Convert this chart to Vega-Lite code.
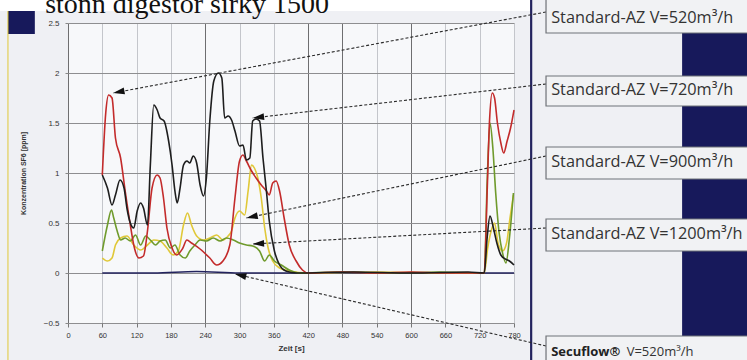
{
  "$schema": "https://vega.github.io/schema/vega-lite/v6.json",
  "width": 446,
  "height": 300,
  "autosize": {"type": "none"},
  "padding": {"left": 68, "top": 23, "right": 233, "bottom": 37},
  "background": "#eff0f4",
  "view": {"fill": "#f7f8fa", "stroke": null},
  "resolve": {"axis": {"x": "independent", "y": "independent"}},
  "title": {
    "text": "Prüf Frontschieberöffnung 900 mm; Abschaltzug Breite 1500",
    "anchor": "start",
    "dx": 52,
    "offset": 3,
    "fontSize": 9,
    "fontWeight": "normal",
    "color": "#555555",
    "font": "Liberation Sans"
  },
  "datasets": {
    "curves": [
      {"s": "E", "t": 60, "c": 0}, {"s": "E", "t": 150, "c": 0}, {"s": "E", "t": 225, "c": 0.015}, {"s": "E", "t": 300, "c": 0}, {"s": "E", "t": 420, "c": 0}, {"s": "E", "t": 560, "c": 0}, {"s": "E", "t": 729, "c": 0}, {"s": "E", "t": 780, "c": 0},

      {"s": "C", "t": 60, "c": 0.15}, {"s": "C", "t": 69, "c": 0.12}, {"s": "C", "t": 77, "c": 0.15}, {"s": "C", "t": 83, "c": 0.28}, {"s": "C", "t": 92, "c": 0.35}, {"s": "C", "t": 103, "c": 0.37}, {"s": "C", "t": 115, "c": 0.28}, {"s": "C", "t": 127, "c": 0.23}, {"s": "C", "t": 139, "c": 0.28}, {"s": "C", "t": 150, "c": 0.33}, {"s": "C", "t": 161, "c": 0.32}, {"s": "C", "t": 173, "c": 0.25}, {"s": "C", "t": 184, "c": 0.18}, {"s": "C", "t": 193, "c": 0.22}, {"s": "C", "t": 202, "c": 0.48}, {"s": "C", "t": 209, "c": 0.6}, {"s": "C", "t": 216, "c": 0.48}, {"s": "C", "t": 225, "c": 0.37}, {"s": "C", "t": 237, "c": 0.33}, {"s": "C", "t": 248, "c": 0.35}, {"s": "C", "t": 260, "c": 0.38}, {"s": "C", "t": 271, "c": 0.33}, {"s": "C", "t": 280, "c": 0.37}, {"s": "C", "t": 286, "c": 0.42}, {"s": "C", "t": 292, "c": 0.55}, {"s": "C", "t": 300, "c": 0.62}, {"s": "C", "t": 309, "c": 0.58}, {"s": "C", "t": 315, "c": 0.82}, {"s": "C", "t": 321, "c": 1.08}, {"s": "C", "t": 326, "c": 1.05}, {"s": "C", "t": 332, "c": 0.95}, {"s": "C", "t": 338, "c": 0.75}, {"s": "C", "t": 344, "c": 0.45}, {"s": "C", "t": 350, "c": 0.25}, {"s": "C", "t": 358, "c": 0.12}, {"s": "C", "t": 370, "c": 0.05}, {"s": "C", "t": 387, "c": 0.02}, {"s": "C", "t": 420, "c": 0}, {"s": "C", "t": 540, "c": 0.01}, {"s": "C", "t": 660, "c": 0}, {"s": "C", "t": 728, "c": 0}, {"s": "C", "t": 734, "c": 0.25}, {"s": "C", "t": 740, "c": 0.42}, {"s": "C", "t": 746, "c": 0.5}, {"s": "C", "t": 752, "c": 0.3}, {"s": "C", "t": 760, "c": 0.22}, {"s": "C", "t": 767, "c": 0.3}, {"s": "C", "t": 773, "c": 0.55}, {"s": "C", "t": 779, "c": 0.78},

      {"s": "D", "t": 60, "c": 0.22}, {"s": "D", "t": 69, "c": 0.48}, {"s": "D", "t": 76, "c": 0.63}, {"s": "D", "t": 80, "c": 0.55}, {"s": "D", "t": 86, "c": 0.42}, {"s": "D", "t": 92, "c": 0.33}, {"s": "D", "t": 100, "c": 0.35}, {"s": "D", "t": 109, "c": 0.32}, {"s": "D", "t": 118, "c": 0.38}, {"s": "D", "t": 127, "c": 0.28}, {"s": "D", "t": 136, "c": 0.37}, {"s": "D", "t": 144, "c": 0.33}, {"s": "D", "t": 153, "c": 0.28}, {"s": "D", "t": 161, "c": 0.32}, {"s": "D", "t": 170, "c": 0.33}, {"s": "D", "t": 179, "c": 0.25}, {"s": "D", "t": 187, "c": 0.28}, {"s": "D", "t": 196, "c": 0.18}, {"s": "D", "t": 205, "c": 0.15}, {"s": "D", "t": 213, "c": 0.22}, {"s": "D", "t": 222, "c": 0.28}, {"s": "D", "t": 231, "c": 0.33}, {"s": "D", "t": 242, "c": 0.32}, {"s": "D", "t": 254, "c": 0.35}, {"s": "D", "t": 266, "c": 0.32}, {"s": "D", "t": 277, "c": 0.35}, {"s": "D", "t": 289, "c": 0.33}, {"s": "D", "t": 300, "c": 0.3}, {"s": "D", "t": 312, "c": 0.28}, {"s": "D", "t": 323, "c": 0.27}, {"s": "D", "t": 335, "c": 0.22}, {"s": "D", "t": 344, "c": 0.12}, {"s": "D", "t": 352, "c": 0.18}, {"s": "D", "t": 361, "c": 0.12}, {"s": "D", "t": 373, "c": 0.08}, {"s": "D", "t": 387, "c": 0.03}, {"s": "D", "t": 405, "c": 0}, {"s": "D", "t": 470, "c": 0.01}, {"s": "D", "t": 560, "c": 0}, {"s": "D", "t": 650, "c": 0.01}, {"s": "D", "t": 728, "c": 0}, {"s": "D", "t": 733, "c": 0.9}, {"s": "D", "t": 738, "c": 1.5}, {"s": "D", "t": 743, "c": 1.25}, {"s": "D", "t": 748, "c": 0.8}, {"s": "D", "t": 754, "c": 0.4}, {"s": "D", "t": 760, "c": 0.2}, {"s": "D", "t": 766, "c": 0.1}, {"s": "D", "t": 772, "c": 0.35}, {"s": "D", "t": 779, "c": 0.8},

      {"s": "A", "t": 60, "c": 0.98}, {"s": "A", "t": 66, "c": 1.6}, {"s": "A", "t": 71, "c": 1.78}, {"s": "A", "t": 77, "c": 1.75}, {"s": "A", "t": 83, "c": 1.35}, {"s": "A", "t": 92, "c": 1.15}, {"s": "A", "t": 100, "c": 0.82}, {"s": "A", "t": 109, "c": 0.48}, {"s": "A", "t": 115, "c": 0.28}, {"s": "A", "t": 124, "c": 0.15}, {"s": "A", "t": 132, "c": 0.17}, {"s": "A", "t": 139, "c": 0.42}, {"s": "A", "t": 147, "c": 0.85}, {"s": "A", "t": 156, "c": 0.98}, {"s": "A", "t": 161, "c": 0.95}, {"s": "A", "t": 167, "c": 0.75}, {"s": "A", "t": 173, "c": 0.45}, {"s": "A", "t": 182, "c": 0.25}, {"s": "A", "t": 190, "c": 0.18}, {"s": "A", "t": 200, "c": 0.24}, {"s": "A", "t": 208, "c": 0.33}, {"s": "A", "t": 216, "c": 0.3}, {"s": "A", "t": 231, "c": 0.24}, {"s": "A", "t": 248, "c": 0.15}, {"s": "A", "t": 260, "c": 0.08}, {"s": "A", "t": 271, "c": 0.12}, {"s": "A", "t": 283, "c": 0.28}, {"s": "A", "t": 292, "c": 0.75}, {"s": "A", "t": 300, "c": 1.12}, {"s": "A", "t": 306, "c": 1.18}, {"s": "A", "t": 312, "c": 1.12}, {"s": "A", "t": 321, "c": 1.02}, {"s": "A", "t": 329, "c": 0.95}, {"s": "A", "t": 338, "c": 0.88}, {"s": "A", "t": 347, "c": 0.82}, {"s": "A", "t": 352, "c": 0.78}, {"s": "A", "t": 358, "c": 0.9}, {"s": "A", "t": 364, "c": 0.92}, {"s": "A", "t": 370, "c": 0.82}, {"s": "A", "t": 378, "c": 0.55}, {"s": "A", "t": 387, "c": 0.28}, {"s": "A", "t": 399, "c": 0.12}, {"s": "A", "t": 410, "c": 0.03}, {"s": "A", "t": 420, "c": 0}, {"s": "A", "t": 480, "c": 0.01}, {"s": "A", "t": 540, "c": 0}, {"s": "A", "t": 600, "c": 0.01}, {"s": "A", "t": 660, "c": 0}, {"s": "A", "t": 728, "c": 0}, {"s": "A", "t": 733, "c": 0.8}, {"s": "A", "t": 737, "c": 1.5}, {"s": "A", "t": 742, "c": 1.8}, {"s": "A", "t": 746, "c": 1.75}, {"s": "A", "t": 751, "c": 1.5}, {"s": "A", "t": 757, "c": 1.3}, {"s": "A", "t": 762, "c": 1.2}, {"s": "A", "t": 768, "c": 1.32}, {"s": "A", "t": 774, "c": 1.45}, {"s": "A", "t": 780, "c": 1.63},

      {"s": "B", "t": 60, "c": 0.98}, {"s": "B", "t": 69, "c": 0.85}, {"s": "B", "t": 77, "c": 0.68}, {"s": "B", "t": 83, "c": 0.78}, {"s": "B", "t": 91, "c": 0.93}, {"s": "B", "t": 98, "c": 0.85}, {"s": "B", "t": 103, "c": 0.65}, {"s": "B", "t": 109, "c": 0.5}, {"s": "B", "t": 115, "c": 0.45}, {"s": "B", "t": 121, "c": 0.62}, {"s": "B", "t": 127, "c": 0.7}, {"s": "B", "t": 132, "c": 0.65}, {"s": "B", "t": 139, "c": 0.48}, {"s": "B", "t": 144, "c": 1.08}, {"s": "B", "t": 150, "c": 1.68}, {"s": "B", "t": 156, "c": 1.63}, {"s": "B", "t": 161, "c": 1.55}, {"s": "B", "t": 168, "c": 1.52}, {"s": "B", "t": 176, "c": 1.32}, {"s": "B", "t": 182, "c": 1.08}, {"s": "B", "t": 187, "c": 0.82}, {"s": "B", "t": 191, "c": 0.7}, {"s": "B", "t": 196, "c": 0.85}, {"s": "B", "t": 202, "c": 1.08}, {"s": "B", "t": 208, "c": 1.12}, {"s": "B", "t": 213, "c": 1.1}, {"s": "B", "t": 219, "c": 1.17}, {"s": "B", "t": 225, "c": 1.1}, {"s": "B", "t": 231, "c": 0.88}, {"s": "B", "t": 237, "c": 0.77}, {"s": "B", "t": 242, "c": 0.95}, {"s": "B", "t": 248, "c": 1.52}, {"s": "B", "t": 255, "c": 1.92}, {"s": "B", "t": 263, "c": 2.0}, {"s": "B", "t": 269, "c": 1.95}, {"s": "B", "t": 274, "c": 1.55}, {"s": "B", "t": 280, "c": 1.57}, {"s": "B", "t": 286, "c": 1.53}, {"s": "B", "t": 292, "c": 1.42}, {"s": "B", "t": 300, "c": 1.27}, {"s": "B", "t": 306, "c": 1.28}, {"s": "B", "t": 312, "c": 1.13}, {"s": "B", "t": 318, "c": 1.15}, {"s": "B", "t": 323, "c": 1.52}, {"s": "B", "t": 329, "c": 1.54}, {"s": "B", "t": 335, "c": 1.52}, {"s": "B", "t": 341, "c": 1.15}, {"s": "B", "t": 347, "c": 0.82}, {"s": "B", "t": 352, "c": 0.52}, {"s": "B", "t": 361, "c": 0.22}, {"s": "B", "t": 370, "c": 0.08}, {"s": "B", "t": 381, "c": 0.02}, {"s": "B", "t": 400, "c": 0}, {"s": "B", "t": 500, "c": 0.01}, {"s": "B", "t": 600, "c": 0}, {"s": "B", "t": 700, "c": 0.01}, {"s": "B", "t": 728, "c": 0}, {"s": "B", "t": 733, "c": 0.35}, {"s": "B", "t": 738, "c": 0.57}, {"s": "B", "t": 744, "c": 0.45}, {"s": "B", "t": 750, "c": 0.3}, {"s": "B", "t": 757, "c": 0.18}, {"s": "B", "t": 765, "c": 0.14}, {"s": "B", "t": 772, "c": 0.12}, {"s": "B", "t": 780, "c": 0.08}
    ],
    "arrows": [
      {"x1": 836, "y1": 2.61, "x2": 79, "y2": 1.8},
      {"x1": 836, "y1": 1.89, "x2": 323, "y2": 1.55},
      {"x1": 836, "y1": 1.17, "x2": 312, "y2": 0.55},
      {"x1": 836, "y1": 0.45, "x2": 323, "y2": 0.29},
      {"x1": 836, "y1": -0.73, "x2": 292, "y2": -0.01}
    ],
    "boxes": [
      {"x1": 836, "x2": 1195, "y1": 2.76, "y2": 2.4},
      {"x1": 836, "x2": 1195, "y1": 1.97, "y2": 1.67},
      {"x1": 836, "x2": 1195, "y1": 1.26, "y2": 0.94},
      {"x1": 836, "x2": 1195, "y1": 0.54, "y2": 0.22},
      {"x1": 836, "x2": 1195, "y1": -0.63, "y2": -0.98}
    ],
    "navy": [
      {"x1": 1074, "x2": 1200, "y1": 2.42, "y2": -0.68},
      {"x1": -105, "x2": -58, "y1": 2.62, "y2": 2.39}
    ],
    "labels": [
      {"label": "Standard-AZ V=520m³/h", "x": 845, "y": 2.55},
      {"label": "Standard-AZ V=720m³/h", "x": 845, "y": 1.83},
      {"label": "Standard-AZ V=900m³/h", "x": 845, "y": 1.11},
      {"label": "Standard-AZ V=1200m³/h", "x": 845, "y": 0.39}
    ],
    "seculabel": [
      {"bold": "Secuflow®", "rest": "V=520m³/h", "x": 845, "xr": 977, "y": -0.79}
    ],
    "frame": [
      {"x": 810, "y1": 2.85, "y2": -0.9, "kind": "blue"},
      {"x": -105, "y1": 2.62, "y2": -0.9, "kind": "gray"}
    ],
    "overlay": [
      {"text": "stonn digestor sirky 1500", "x": -40, "y": 2.6}
    ],
    "topband": [
      {"x1": -125, "x2": 810, "y1": 2.62, "y2": 2.9}
    ]
  },
  "layer": [
    {
      "data": {"name": "curves"},
      "mark": {"type": "line", "strokeWidth": 1.6, "interpolate": "monotone"},
      "encoding": {
        "x": {
          "field": "t", "type": "quantitative",
          "scale": {"domain": [0, 780], "nice": false, "zero": false},
          "axis": {
            "title": "Zeit [s]",
            "values": [0, 60, 120, 180, 240, 300, 360, 420, 480, 540, 600, 660, 720, 780],
            "labelOverlap": false,
            "labelBound": false,
            "labelFlush": false,
            "domain": false,
            "tickSize": 4,
            "tickColor": "#777777",
            "labelPadding": 4,
            "labelFont": "Liberation Sans",
            "labelFontSize": 7.5,
            "labelColor": "#333333",
            "titleFont": "Liberation Sans",
            "titleFontSize": 8,
            "titleFontWeight": "bold",
            "titleColor": "#333333",
            "titlePadding": 6,
            "gridColor": {"condition": {"test": "indexof([0,240,420,480,600], datum.value) >= 0", "value": "#6e6e70"}, "value": "#c4c6cb"},
            "gridWidth": 1
          }
        },
        "y": {
          "field": "c", "type": "quantitative",
          "scale": {"domain": [-0.5, 2.5], "nice": false, "zero": false},
          "axis": {
            "title": "Konzentration SF6 [ppm]",
            "values": [-0.5, 0, 0.5, 1, 1.5, 2, 2.5],
            "format": ".1~f",
            "labelOverlap": false,
            "domain": false,
            "tickSize": 3,
            "tickColor": "#888888",
            "labelPadding": 6,
            "labelFont": "Liberation Sans",
            "labelFontSize": 8,
            "labelColor": "#333333",
            "titleFont": "Liberation Sans",
            "titleFontSize": 7,
            "titleFontWeight": "bold",
            "titleColor": "#333333",
            "titlePadding": 17,
            "gridColor": "#8e8e90",
            "gridWidth": 1
          }
        },
        "color": {
          "field": "s", "type": "nominal",
          "scale": {"domain": ["E", "C", "D", "A", "B"], "range": ["#23235e", "#e0c838", "#6f9a2c", "#c32b2b", "#1e1e1e"]},
          "legend": null
        }
      }
    },
    {
      "data": {"name": "topband"},
      "mark": {"type": "rect", "fill": "#ffffff"},
      "encoding": {
        "x": {"field": "x1", "type": "quantitative", "axis": null},
        "x2": {"field": "x2"},
        "y": {"field": "y1", "type": "quantitative", "axis": null},
        "y2": {"field": "y2"}
      }
    },
    {
      "data": {"name": "navy"},
      "mark": {"type": "rect", "fill": "#17195b"},
      "encoding": {
        "x": {"field": "x1", "type": "quantitative", "axis": null},
        "x2": {"field": "x2"},
        "y": {"field": "y1", "type": "quantitative", "axis": null},
        "y2": {"field": "y2"}
      }
    },
    {
      "data": {"name": "frame"},
      "mark": {"type": "rule"},
      "encoding": {
        "x": {"field": "x", "type": "quantitative", "axis": null},
        "y": {"field": "y1", "type": "quantitative", "axis": null},
        "y2": {"field": "y2"},
        "color": {"field": "kind", "type": "nominal", "scale": {"domain": ["blue", "gray"], "range": ["#3f5e98", "#9a9ca3"]}, "legend": null},
        "strokeWidth": {"field": "kind", "type": "nominal", "scale": {"domain": ["blue", "gray"], "range": [2.2, 1]}, "legend": null}
      }
    },
    {
      "data": {"name": "arrows"},
      "mark": {"type": "rule", "color": "#2a2a2a", "strokeWidth": 1.1, "strokeDash": [3, 2]},
      "encoding": {
        "x": {"field": "x1", "type": "quantitative", "axis": null},
        "y": {"field": "y1", "type": "quantitative", "axis": null},
        "x2": {"field": "x2"},
        "y2": {"field": "y2"}
      }
    },
    {
      "data": {"name": "arrows"},
      "transform": [
        {"calculate": "atan2(-(datum.y2 - datum.y1) * 100, (datum.x2 - datum.x1) * 0.5718) * 180 / PI", "as": "ang"}
      ],
      "mark": {"type": "point", "shape": "M0,0L-2,-0.6L-2,0.6Z", "filled": true, "size": 130, "color": "#111111", "opacity": 1},
      "encoding": {
        "x": {"field": "x2", "type": "quantitative", "axis": null},
        "y": {"field": "y2", "type": "quantitative", "axis": null},
        "angle": {"field": "ang", "type": "quantitative", "scale": null}
      }
    },
    {
      "data": {"name": "boxes"},
      "mark": {"type": "rect", "fill": "#f1f2f4", "stroke": "#6f7278", "strokeWidth": 1.2},
      "encoding": {
        "x": {"field": "x1", "type": "quantitative", "axis": null},
        "x2": {"field": "x2"},
        "y": {"field": "y1", "type": "quantitative", "axis": null},
        "y2": {"field": "y2"}
      }
    },
    {
      "data": {"name": "labels"},
      "mark": {"type": "text", "align": "left", "baseline": "middle", "font": "Open Sans", "fontSize": 16.3, "color": "#333333"},
      "encoding": {
        "x": {"field": "x", "type": "quantitative", "axis": null},
        "y": {"field": "y", "type": "quantitative", "axis": null},
        "text": {"field": "label"}
      }
    },
    {
      "data": {"name": "seculabel"},
      "mark": {"type": "text", "align": "left", "baseline": "middle", "font": "Open Sans", "fontSize": 13, "fontWeight": "bold", "color": "#222222"},
      "encoding": {
        "x": {"field": "x", "type": "quantitative", "axis": null},
        "y": {"field": "y", "type": "quantitative", "axis": null},
        "text": {"field": "bold"}
      }
    },
    {
      "data": {"name": "seculabel"},
      "mark": {"type": "text", "align": "left", "baseline": "middle", "font": "Open Sans", "fontSize": 13, "color": "#333333"},
      "encoding": {
        "x": {"field": "xr", "type": "quantitative", "axis": null},
        "y": {"field": "y", "type": "quantitative", "axis": null},
        "text": {"field": "rest"}
      }
    },
    {
      "data": {"name": "overlay"},
      "mark": {"type": "text", "align": "left", "baseline": "alphabetic", "font": "Liberation Serif", "fontSize": 28, "color": "#111111"},
      "encoding": {
        "x": {"field": "x", "type": "quantitative", "axis": null},
        "y": {"field": "y", "type": "quantitative", "axis": null},
        "text": {"field": "text"}
      }
    }
  ]
}
